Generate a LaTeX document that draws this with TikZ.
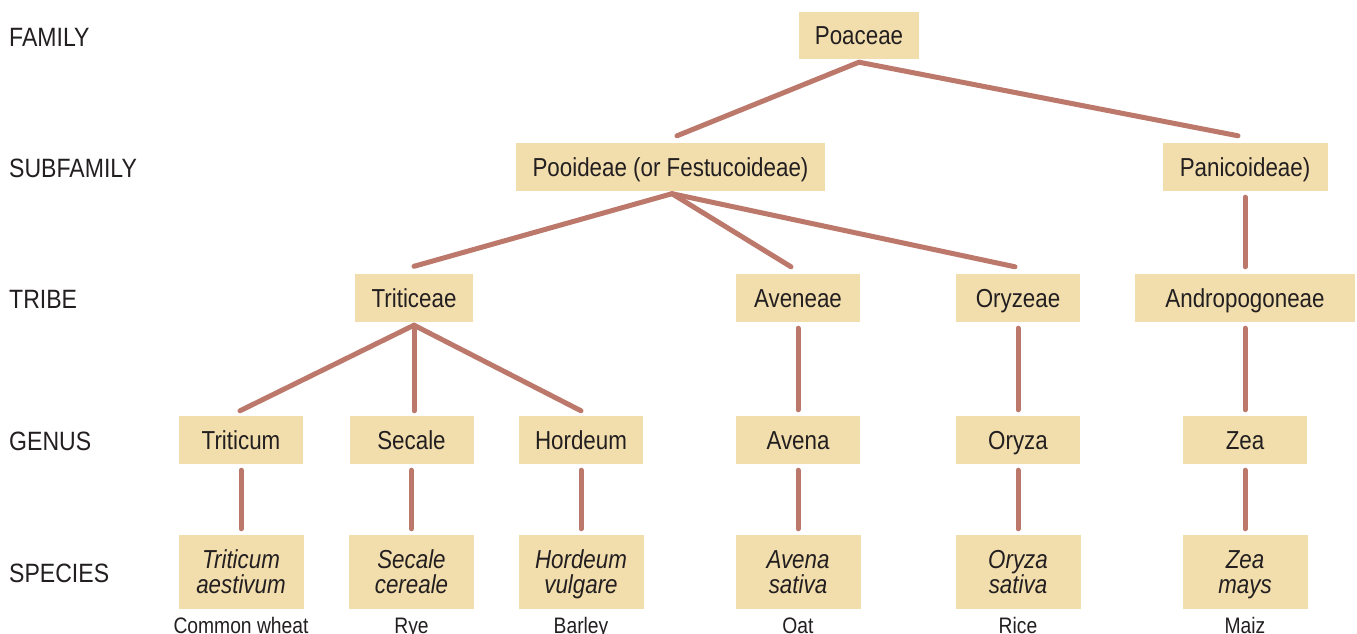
\documentclass[tikz,border=0pt]{standalone}
\usepackage{fontspec}
\setmainfont{Liberation Sans}
\newfontfamily\condfont[FakeStretch=0.86]{Liberation Sans}
\newfontfamily\rankfont[FakeStretch=0.87]{Liberation Sans}
\definecolor{boxfill}{RGB}{242,222,173}
\definecolor{edgecol}{RGB}{188,120,106}
\definecolor{txt}{RGB}{35,31,32}
\newcommand{\nodepth}[1]{\raisebox{0pt}[\height][0pt]{#1}}
\tikzset{
  box/.style={fill=boxfill, inner sep=0pt, text=txt, minimum height=48pt},
  single/.style={box, font=\condfont\fontsize{26}{25}\selectfont, text height=18.7pt, text depth=0pt},
  species/.style={box, minimum height=74pt, minimum width=125pt, align=center,
     font=\condfont\itshape\fontsize{26}{25}\selectfont},
  ranklabel/.style={anchor=base west, inner sep=0pt, text=txt, font=\rankfont\fontsize{26.5}{28}\selectfont},
  common/.style={anchor=base, inner sep=0pt, text=txt, font=\condfont\fontsize{22.4}{24}\selectfont},
  edge/.style={draw=edgecol, line width=5pt, line cap=round}
}
\begin{document}
\begin{tikzpicture}[x=1pt,y=-1pt]
\useasboundingbox (0,0) rectangle (1357,634);
\fill[white] (0,0) rectangle (1357,634);

% rank labels
\node[ranklabel] (lfam) at (9,47) {FAMILY};
\node[ranklabel] (lsub) at (9,177) {SUBFAMILY};
\node[ranklabel] (ltri) at (9,308) {TRIBE};
\node[ranklabel] (lgen) at (9,450) {GENUS};
\node[ranklabel] (lspe) at (9,582) {SPECIES};

% family
\node[single, minimum width=120pt, minimum height=47pt] (poaceae) at (859,35.5) {Poaceae};
% subfamilies
\node[single, minimum width=309pt] (pooideae) at (670.5,167) {Pooideae (or Festucoideae)};
\node[single, minimum width=165pt] (panicoideae) at (1245,167) {Panicoideae)};
% tribes
\node[single, minimum width=118pt] (triticeae) at (414,298) {Triticeae};
\node[single, minimum width=124pt] (aveneae) at (798,298) {Aveneae};
\node[single, minimum width=124pt] (oryzeae) at (1018,298) {Oryzeae};
\node[single, minimum width=220pt] (andro) at (1245,298) {Andropogoneae};
% genera
\node[single, minimum width=124pt] (triticum) at (241,440) {Triticum};
\node[single, minimum width=124pt] (secale) at (411.5,440) {Secale};
\node[single, minimum width=124pt] (hordeum) at (581,440) {Hordeum};
\node[single, minimum width=124pt] (avena) at (798,440) {Avena};
\node[single, minimum width=124pt] (oryza) at (1018,440) {Oryza};
\node[single, minimum width=124pt] (zea) at (1245,440) {Zea};
% species
\node[species] (stri) at (241,572) {Triticum\\\nodepth{aestivum}};
\node[species] (ssec) at (411.5,572) {Secale\\\nodepth{cereale}};
\node[species] (shor) at (581,572) {Hordeum\\\nodepth{vulgare}};
\node[species] (save) at (798,572) {Avena\\\nodepth{sativa}};
\node[species] (sory) at (1018,572) {Oryza\\\nodepth{sativa}};
\node[species] (szea) at (1245,572) {Zea\\\nodepth{mays}};
% common names
\node[common] (ctri) at (241,633) {Common wheat};
\node[common] (csec) at (411.5,633) {Rye};
\node[common] (chor) at (581,633) {Barley};
\node[common] (cave) at (798,633) {Oat};
\node[common] (cory) at (1018,633) {Rice};
\node[common] (czea) at (1245,633) {Maiz};

% connectors
\draw[edge] ([yshift=-3pt]poaceae.south) -- ([xshift=6.5pt,yshift=7pt]pooideae.north);
\draw[edge] ([yshift=-3pt]poaceae.south) -- ([xshift=-7pt,yshift=7pt]panicoideae.north);

\draw[edge] ([xshift=1.5pt,yshift=-2.5pt]pooideae.south) -- ([yshift=7.5pt]triticeae.north);
\draw[edge] ([xshift=1.5pt,yshift=-2.5pt]pooideae.south) -- ([xshift=-7pt,yshift=7pt]aveneae.north);
\draw[edge] ([xshift=1.5pt,yshift=-2.5pt]pooideae.south) -- ([xshift=-3pt,yshift=7pt]oryzeae.north);
\draw[edge] ([yshift=-6pt]panicoideae.south) -- ([yshift=7pt]andro.north);

\draw[edge] ([yshift=-3pt]triticeae.south) -- ([xshift=-1pt,yshift=5pt]triticum.north);
\draw[edge] ([yshift=-3pt]triticeae.south) -- ([xshift=2.5pt,yshift=5pt]secale.north);
\draw[edge] ([yshift=-3pt]triticeae.south) -- ([yshift=5pt]hordeum.north);
\draw[edge] ([yshift=-6pt]aveneae.south) -- ([yshift=6pt]avena.north);
\draw[edge] ([yshift=-6pt]oryzeae.south) -- ([yshift=6pt]oryza.north);
\draw[edge] ([yshift=-6pt]andro.south) -- ([yshift=6pt]zea.north);

\draw[edge] ([yshift=-6pt]triticum.south) -- ([yshift=6pt]stri.north);
\draw[edge] ([yshift=-6pt]secale.south) -- ([yshift=6pt]ssec.north);
\draw[edge] ([yshift=-6pt]hordeum.south) -- ([yshift=6pt]shor.north);
\draw[edge] ([yshift=-6pt]avena.south) -- ([yshift=6pt]save.north);
\draw[edge] ([yshift=-6pt]oryza.south) -- ([yshift=6pt]sory.north);
\draw[edge] ([yshift=-6pt]zea.south) -- ([yshift=6pt]szea.north);
\end{tikzpicture}
\end{document}
